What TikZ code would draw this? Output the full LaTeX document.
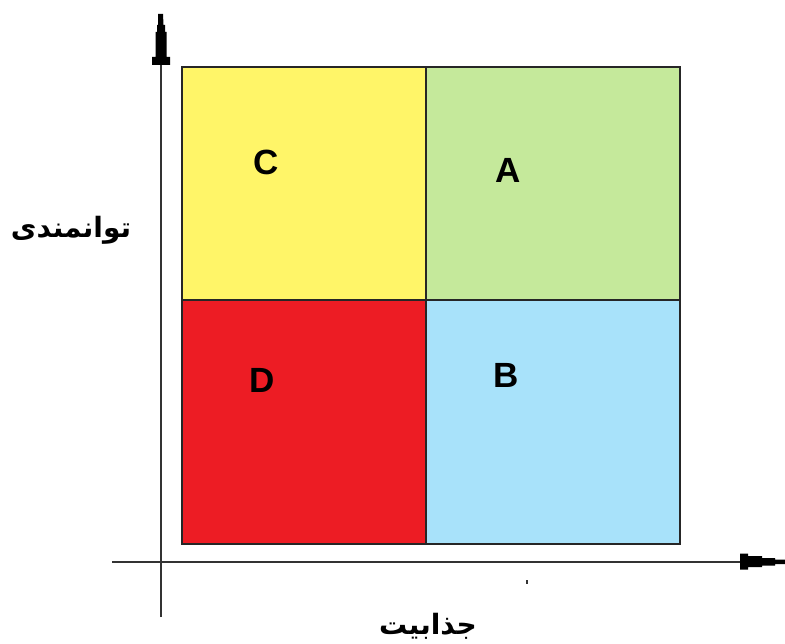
\documentclass[tikz,border=0pt]{standalone}
\usepackage{fontspec}
\setmainfont{Liberation Sans}
\newfontfamily\arabicfont[Script=Arabic]{DejaVu Sans}
\TeXXeTstate=1
\definecolor{cyel}{RGB}{255,245,104}
\definecolor{cgrn}{RGB}{197,233,155}
\definecolor{cred}{RGB}{237,28,36}
\definecolor{cblu}{RGB}{168,226,250}
\tikzset{
  cell/.style={draw=black!85, line width=1.6pt},
  axis/.style={draw=black!80, line width=1.5pt},
  letter/.style={font=\fontsize{35}{35}\selectfont\bfseries, inner sep=0pt},
  fatext/.style={font=\fontsize{28}{30}\selectfont\arabicfont\bfseries, inner sep=0pt},
  head/.style={fill=black, draw=none}
}
\begin{document}
\begin{tikzpicture}[x=1pt,y=-1pt]
\useasboundingbox (0,0) rectangle (785,644);
% cells
\path[cell, fill=cyel] (182,67) rectangle (426,300);
\path[cell, fill=cgrn] (426,67) rectangle (680,300);
\path[cell, fill=cred] (182,300) rectangle (426,544);
\path[cell, fill=cblu] (426,300) rectangle (680,544);
% axes
\coordinate (ytop) at (161,20);
\coordinate (ybot) at (161,617);
\coordinate (xl) at (112,562);
\coordinate (xr) at (785,562);
\draw[axis] (ybot) -- (ytop);
\draw[axis] (xl) -- (xr);
% stepped arrowheads
\fill[head] (158,14) -- (163,14) -- (163.5,25) -- (165,25) -- (165,32) -- (166.5,32) -- (166.5,57) -- (170,57) -- (170,65)
  -- (152,65) -- (152,57) -- (155.5,57) -- (155.5,32) -- (157,32) -- (157,25) -- (158,25) -- cycle;
\fill[head] (740,553.5) -- (748,553.5) -- (748,556) -- (762,556) -- (762,558) -- (775,558) -- (775,559.5) -- (785,559.5)
  -- (785,564) -- (775,564) -- (775,565.5) -- (762,565.5) -- (762,567) -- (748,567) -- (748,569.5) -- (740,569.5) -- cycle;
% letters
\node[letter] (c) at (266,162) {C};
\node[letter] (a) at (508,170) {A};
\node[letter] (d) at (262,380) {D};
\node[letter] (b) at (506,375) {B};
% axis labels
\node[fatext] (yl) at (71,230) {\beginR توانمندی\endR};
\node[fatext] (xlab) at (428,626) {\beginR جذابیت\endR};
% small dot
\fill[black!80] (525.5,580) rectangle (527.5,584);
\end{tikzpicture}
\end{document}
